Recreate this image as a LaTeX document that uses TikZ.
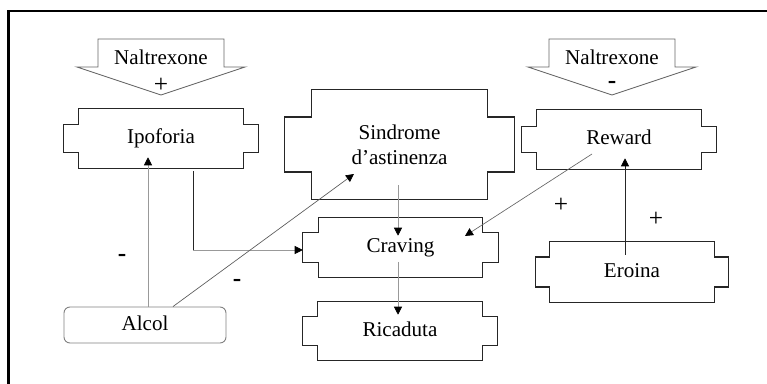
\documentclass[tikz,border=0pt]{standalone}
\usepackage{fontspec}
\setmainfont{Liberation Serif}
\usetikzlibrary{positioning,calc,arrows.meta}

\newcommand{\tabframe}[3]{%
    \draw[boxline] (#1.north west) -- (#1.north east) -- ($(#1.east)+(0,-#3)$) -- ++(#2,0) -- ++(0,{2*#3}) -- ++(-#2,0)
        -- (#1.south east) -- (#1.south west) -- ($(#1.west)+(0,#3)$) -- ++(-#2,0) -- ++(0,{-2*#3}) -- ++(#2,0) -- cycle;}
\newcommand{\naltarrow}[1]{%
    \draw[naltline] ($(#1)+(-63,-20)$) -- ($(#1)+(63,-20)$) -- ($(#1)+(63,8)$) -- ($(#1)+(84,8)$)
        -- ($(#1)+(0,36)$) -- ($(#1)+(-84,8)$) -- ($(#1)+(-63,8)$) -- cycle;}

\begin{document}
\begin{tikzpicture}[x=0.75pt,y=-0.75pt,
        font=\fontsize{15.8}{18.75}\selectfont,
        fixtext/.style={text height=11pt, text depth=3.2pt},
        lbl/.style={fixtext, inner sep=0pt},
        sign/.style={inner sep=0pt, font=\fontsize{19}{22}\selectfont\bfseries},
        tabbox/.style={fixtext, inner sep=0pt, minimum width=123pt, minimum height=44.25pt},
        boxline/.style={draw=black!85, line width=0.8pt},
        naltline/.style={draw=black!60, line width=0.7pt},
        alcolbox/.style={fixtext, draw=black!50, line width=0.7pt, rounded corners=4.5pt, inner sep=0pt,
            minimum width=121.5pt, minimum height=27pt},
        tip/.style={-{Triangle[length=6pt,width=6pt,color=black]}},
        link/.style={tip, draw=black!40, line width=0.5pt},
        darklink/.style={draw=black!85, line width=0.6pt}]
        \useasboundingbox (0,0) rectangle (767,384);
        \draw[line width=2pt] (8.5,384) -- (8.5,11) -- (767,11);
        \node[lbl] (naltL) at (161,59) {Naltrexone};
        \node[lbl] (naltR) at (612,59) {Naltrexone};
        \naltarrow{naltL}
        \naltarrow{naltR}
        \node[sign, font=\fontsize{19}{22}\selectfont] (plusN) at (161,85) {+};
        \node[sign] (minusN) at (612,85) {-};
        \node[tabbox] (ipo) at (161,138.5) {Ipoforia};
        \node[inner sep=0pt, minimum width=131.25pt, minimum height=81.75pt, align=center] (sind) at (399.5,144.5) {Sindrome\\d'astinenza};
        \node[tabbox] (crav) at (400.5,247.5) {Craving};
        \node[tabbox, minimum height=43.5pt] (ric) at (400,331) {Ricaduta};
        \node[tabbox] (rew) at (619,139.5) {Reward};
        \node[tabbox, minimum height=45pt] (ero) at (632,272) {Eroina};
        \node[alcolbox] (alcol) at (145,325) {Alcol};
        \foreach \n/\w/\h in {ipo/15/14, sind/27/27.5, crav/15.5/15, ric/15/14.5, rew/15/13, ero/14.5/15}
            \tabframe{\n}{\w}{\h};
        \draw[link] ($(alcol.north)+(3,0)$) -- ($(ipo.south)+(-13,-11)$);
        \draw[darklink] ($(ipo.south)+(32,3)$) coordinate (ipoout) -- ($(ipoout |- crav.west)+(0,2.5)$) coordinate (bend);
        \draw[link] (bend) -- ($(bend -| crav.west)+(-15.5,0)$);
        \draw[link, draw=black!65] ($(alcol.north)+(28,0)$) -- ($(sind.center)+(-45.5,29.5)$);
        \draw[link] ($(sind.south)+(-1.5,-14)$) -- ($(crav.north)+(-2.5,18)$);
        \draw[link] ($(crav.center)+(-2.5,14.5)$) -- ($(ric.north)+(-2,13)$);
        \draw[link, draw=black!60] ($(rew.center)+(-27,14.5)$) -- ($(crav.center)+(64.5,-11.5)$);
        \draw[darklink, tip] ($(ero.north)+(-7,13)$) -- ($(rew.south)+(6,-11)$);
        \node[sign] (minusA) at (122,258) {-};
        \node[sign] (minusB) at (237,283) {-};
        \node[sign, font=\fontsize{19}{22}\selectfont] (plusA) at (561,205) {+};
        \node[sign, font=\fontsize{19}{22}\selectfont] (plusB) at (656,219) {+};
    \end{tikzpicture}
\end{document}
